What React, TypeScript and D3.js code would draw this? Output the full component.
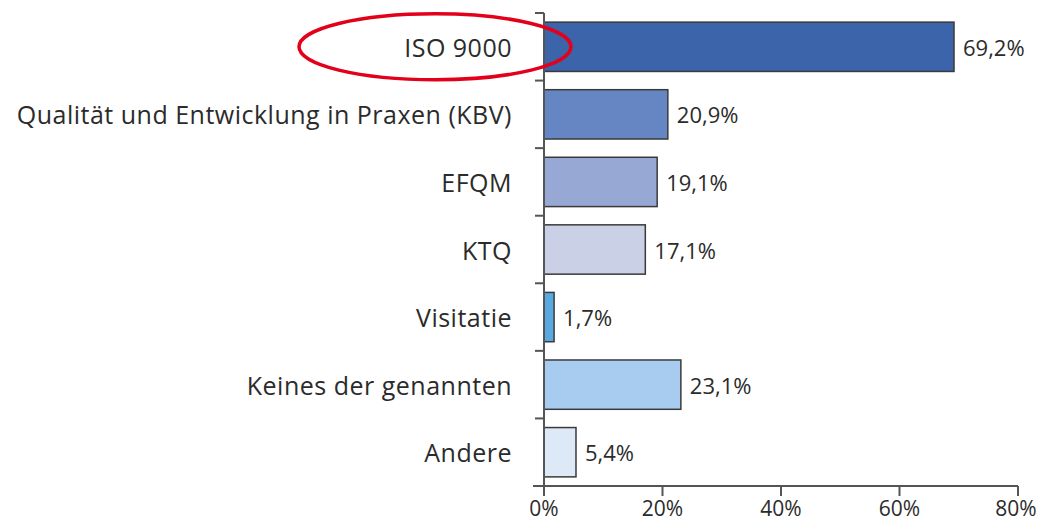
import * as d3 from "d3";

// Categories and shares (percent)
const categories = [
  "ISO 9000",
  "Qualität und Entwicklung in Praxen (KBV)",
  "EFQM",
  "KTQ",
  "Visitatie",
  "Keines der genannten",
  "Andere",
];
const shares = [69.2, 20.9, 19.1, 17.1, 1.7, 23.1, 5.4];
const barColors = ["#3c64aa", "#6586c2", "#98a8d4", "#cad1e7", "#5aa8e2", "#a8ccef", "#dde9f6"];
const xTicks = [0, 20, 40, 60, 80];

const W = 1041;
const H = 525;
const FONT = "'Open Sans', 'Noto Sans', sans-serif";

export default function App() {
  const left = 544;
  const top = 13;
  const bottom = 486;

  const x = d3.scaleLinear().domain([0, 80]).range([left, 1018]);
  const y = d3
    .scaleBand<string>()
    .domain(categories)
    .range([top, bottom])
    .paddingInner(0.27)
    .paddingOuter(0.135);

  const step = y.step();
  const edges = d3.range(categories.length + 1).map((i) => top + i * step);
  const fmt = (v: number) => v.toFixed(1).replace(".", ",") + "%";

  return (
    <div style={{ position: "absolute", left: 0, top: 0 }}>
      <svg width={W} height={H} style={{ display: "block", background: "#fff" }}>
        {/* bars */}
        {categories.map((c, i) => (
          <rect
            key={c}
            x={x(0)}
            y={y(c)}
            width={x(shares[i]) - x(0)}
            height={y.bandwidth()}
            fill={barColors[i]}
            stroke="#3a3a3a"
            strokeWidth={1.5}
          />
        ))}

        {/* category labels */}
        {categories.map((c) => (
          <text
            key={c}
            x={512}
            y={(y(c) ?? 0) + y.bandwidth() / 2}
            textAnchor="end"
            dominantBaseline="central"
            fontFamily={FONT}
            fontSize={25}
            letterSpacing={0.5}
            fill="#2b2b2b"
          >
            {c}
          </text>
        ))}

        {/* value labels */}
        {categories.map((c, i) => (
          <text
            key={c}
            x={x(shares[i]) + 9}
            y={(y(c) ?? 0) + y.bandwidth() / 2}
            dominantBaseline="central"
            fontFamily={FONT}
            fontSize={22}
            fill="#2b2b2b"
          >
            {fmt(shares[i])}
          </text>
        ))}

        {/* y axis */}
        <line x1={left} x2={left} y1={top} y2={bottom + 10} stroke="#555" strokeWidth={2} />
        {edges.map((e, i) => (
          <line key={i} x1={left - 9} x2={left} y1={e} y2={e} stroke="#555" strokeWidth={2} />
        ))}

        {/* x axis */}
        <line x1={533} x2={x(80)} y1={bottom} y2={bottom} stroke="#555" strokeWidth={2} />
        {xTicks.map((t) => (
          <g key={t}>
            <line x1={x(t)} x2={x(t)} y1={bottom} y2={bottom + 10} stroke="#555" strokeWidth={2} />
            <text
              x={t === 80 ? x(t) - 2 : x(t)}
              y={bottom + 22}
              textAnchor="middle"
              dominantBaseline="central"
              fontFamily={FONT}
              fontSize={21}
              fill="#2b2b2b"
            >
              {t}%
            </text>
          </g>
        ))}

        {/* highlight ellipse */}
        <ellipse
          cx={435}
          cy={(y(categories[0]) ?? 0) + y.bandwidth() / 2}
          rx={136}
          ry={33}
          fill="none"
          stroke="#e2001a"
          strokeWidth={3.5}
        />
      </svg>
    </div>
  );
}
